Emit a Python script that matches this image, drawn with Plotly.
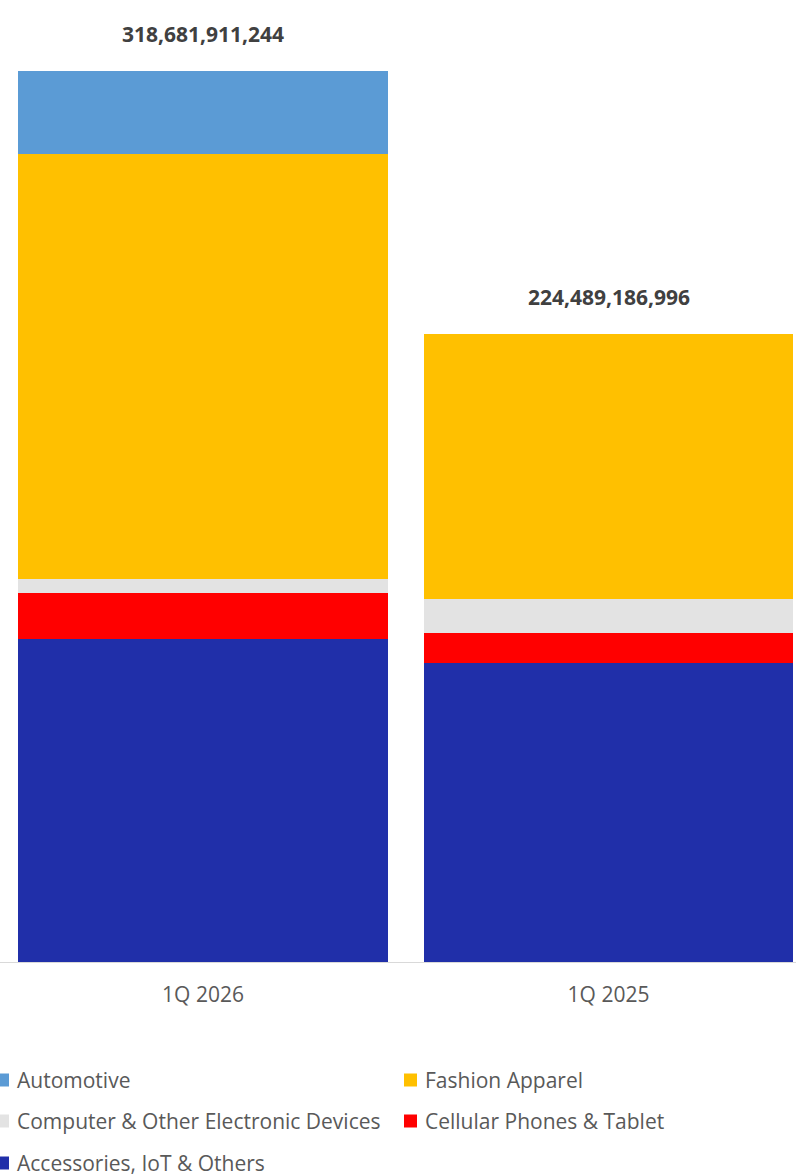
import plotly.graph_objects as go

# ---------------- data ----------------
categories = ["1Q 2026", "1Q 2025"]
totals = [318681911244, 224489186996]

accessories = [115.4e9, 106.9e9]
cellular = [16.6e9, 10.9e9]
computer = [4.9e9, 12.2e9]
fashion = [152.1e9, 94.5e9]
automotive = [29.7e9, 0.0]

series_names = [
    "Accessories, IoT & Others",
    "Cellular Phones & Tablet",
    "Computer & Other Electronic Devices",
    "Fashion Apparel",
    "Automotive",
]
series_values = [accessories, cellular, computer, fashion, automotive]
series_colors = ["#202FA9", "#FF0000", "#E3E3E3", "#FFC000", "#5B9BD5"]

# legend layout: (column left px of swatch, row centre y px)
legend_slots = [(-4, 1163), (404, 1121), (-4, 1121), (404, 1080), (-4, 1080)]

W, H = 796, 1176
MB = 214                 # bottom margin
PH = H - MB              # plot height in px
FONT = "Open Sans"

fig = go.Figure()
for name, vals, col in zip(series_names, series_values, series_colors):
    fig.add_trace(go.Bar(
        x=categories, y=vals, name=name, width=0.91,
        marker=dict(color=col, line=dict(width=0)),
        hoverinfo="skip", showlegend=False,
    ))

for cat, tot in zip(categories, totals):
    fig.add_annotation(
        x=cat, y=tot, text=f"<b>{tot:,}</b>", showarrow=False,
        yanchor="middle", yshift=37,
        font=dict(family=FONT, size=21, color="#404040"),
    )

# custom legend (swatch + label), two columns
SW = 13
for name, col, (lx, ly) in zip(series_names, series_colors, legend_slots):
    fig.add_shape(
        type="rect", xref="paper", yref="paper",
        x0=lx / W, x1=(lx + SW) / W,
        y0=(PH - (ly + SW / 2)) / PH, y1=(PH - (ly - SW / 2)) / PH,
        fillcolor=col, line=dict(width=0), layer="above",
    )
    fig.add_annotation(
        xref="paper", yref="paper",
        x=(lx + SW + 6) / W, y=(PH - ly) / PH,
        xanchor="left", yanchor="middle", showarrow=False,
        text=name, font=dict(family=FONT, size=21, color="#595959"),
    )

fig.update_layout(
    width=W, height=H,
    margin=dict(l=0, r=0, t=0, b=MB, pad=0, autoexpand=False),
    paper_bgcolor="white", plot_bgcolor="white",
    barmode="stack",
    showlegend=False,
    xaxis=dict(
        type="category", range=[-0.5006, 1.4624],
        showline=True, linecolor="#D9D9D9", linewidth=1,
        showgrid=False, zeroline=False, ticks="",
        tickfont=dict(family=FONT, size=21, color="#595959"),
        ticklabelstandoff=14,
    ),
    yaxis=dict(
        range=[0, 344.08e9], visible=False,
        showgrid=False, zeroline=False,
    ),
)

fig.write_html(
    "out.html",
    config={"displayModeBar": False},
    post_script="document.body.style.margin='0';",
)
